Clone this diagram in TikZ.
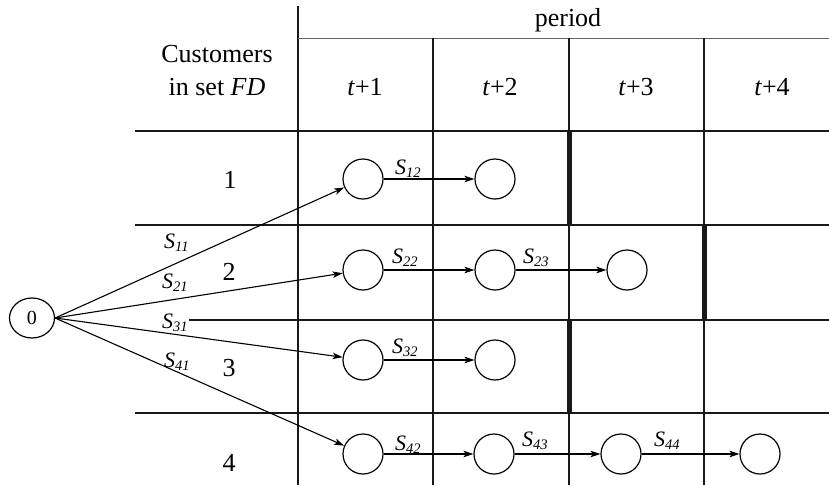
\documentclass[tikz,border=0pt]{standalone}
\usepackage{fontspec}
\setmainfont{Liberation Serif}
\usetikzlibrary{arrows.meta,shapes.geometric}
% italic flow name with a lowered index
\newcommand{\flowname}[1]{S\raisebox{-3pt}{\fontsize{14.5}{15}\selectfont #1}}
\begin{document}
\begin{tikzpicture}[x=1pt,y=-1pt,
  grid/.style={line width=1.3pt, black!90},
  bar/.style={line width=5pt, black!90},
  state/.style={circle, draw, line width=1.2pt, minimum size=40pt, inner sep=0pt},
  source/.style={ellipse, draw, line width=1.2pt, minimum width=45pt, minimum height=40pt, inner sep=0pt, font=\fontsize{20}{22}\selectfont},
  flow/.style={line width=1.1pt, -{Stealth[length=10pt,width=6.5pt,inset=2.5pt]}},
  head/.style={font=\fontsize{26}{28}\selectfont, inner sep=0pt},
  slab/.style={font=\fontsize{22}{24}\selectfont\itshape, inner sep=0pt, anchor=base west}
]
\useasboundingbox (0,0) rectangle (829,485);

% table rules
\draw[grid] (298,6) -- (298,485);
\draw[black!60, line width=1pt] (298,38) -- (829,38);
\foreach \x in {433,569,704} \draw[grid] (\x,38) -- (\x,485);
\foreach \y in {131,225,413} \draw[grid] (135,\y) -- (829,\y);
\draw[grid] (189,320) -- (829,320);

% period boundaries
\draw[bar] (569,131) -- (569,225);
\draw[bar] (704,225) -- (704,320);
\draw[bar] (569,320) -- (569,413);

% headers
\node[head] (hper) at (568,20) {period};
\node[head] (hcus) at (217,54) {Customers};
\node[head] (hset) at (217,87) {in set \textit{FD}};
\node[head] (ht1) at (365,87) {\textit{t}+1};
\node[head] (ht2) at (500,87) {\textit{t}+2};
\node[head] (ht3) at (636,87) {\textit{t}+3};
\node[head] (ht4) at (772,87) {\textit{t}+4};

% customer numbers
\node[head] (r1) at (230,180) {1};
\node[head] (r2) at (229,272) {2};
\node[head] (r3) at (229,368) {3};
\node[head] (r4) at (229,463) {4};

% states
\node[source] (n0) at (32,318) {0};
\node[state] (c11) at (363,179) {};
\node[state] (c12) at (495,179) {};
\node[state] (c21) at (363,270) {};
\node[state] (c22) at (495,270) {};
\node[state] (c23) at (627,270) {};
\node[state] (c31) at (363,360) {};
\node[state] (c32) at (495,360) {};
\node[state] (c41) at (363,454) {};
\node[state] (c42) at (494,454) {};
\node[state] (c43) at (621,454) {};
\node[state] (c44) at (760,454) {};

% flows
\draw[flow] (n0.east) -- (c11);
\draw[flow] (n0.east) -- (c21);
\draw[flow] (n0.east) -- (c31);
\draw[flow] (n0.east) -- (c41);
\draw[flow] (c11) -- (c12);
\draw[flow] (c21) -- (c22);
\draw[flow] (c22) -- (c23);
\draw[flow] (c31) -- (c32);
\draw[flow] (c41) -- (c42);
\draw[flow] (c42) -- (c43);
\draw[flow] (c43) -- (c44);

% flow labels
\node[slab] (s11) at (164,248) {\flowname{11}};
\node[slab] (s21) at (162,288) {\flowname{21}};
\node[slab] (s31) at (162,328) {\flowname{31}};
\node[slab] (s41) at (164,367) {\flowname{41}};
\node[slab] (s12) at (395,174) {\flowname{12}};
\node[slab] (s22) at (392,263) {\flowname{22}};
\node[slab] (s23) at (523,263) {\flowname{23}};
\node[slab] (s32) at (392,353) {\flowname{32}};
\node[slab] (s42) at (395,450) {\flowname{42}};
\node[slab] (s43) at (522,446) {\flowname{43}};
\node[slab] (s44) at (654,446) {\flowname{44}};
\end{tikzpicture}
\end{document}
